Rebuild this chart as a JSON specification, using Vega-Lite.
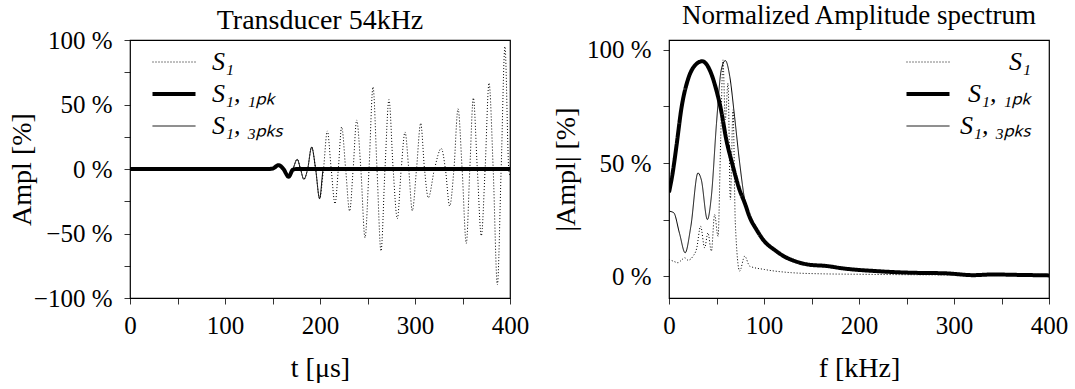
{
  "$schema": "https://vega.github.io/schema/vega-lite/v6.json",
  "background": "white",
  "padding": {"left": 7, "top": 1, "right": 5, "bottom": 3},
  "spacing": 159,
  "bounds": "flush",
  "config": {
    "font": "Liberation Serif",
    "style": {"guide-label": {"font": "Liberation Serif", "fill": "black"}, "guide-title": {"font": "Liberation Serif", "fill": "black"}, "group-title": {"font": "Liberation Serif"}},
    "view": {"stroke": "black", "strokeWidth": 1.2},
    "axis": {"domain": false, "grid": false, "ticks": true, "tickColor": "black", "tickSize": 6, "tickWidth": 0.8,
      "labelFont": "Liberation Serif", "labelFontSize": 25, "labelColor": "black", "labelFlush": false, "labelOverlap": false, "labelBound": false,
      "titleFont": "Liberation Serif", "titleFontSize": 28, "titleFontWeight": "normal", "titleColor": "black"},
    "legend": {"labelFont": "Liberation Serif"},
    "title": {"font": "Liberation Serif", "fontSize": 28, "fontWeight": "normal", "color": "black", "baseline": "alphabetic", "anchor": "middle", "frame": "group"}
  },
  "datasets": {
    "time": [
      {"s": "S1", "t": 0, "v": 0}, {"s": "S1", "t": 145, "v": 0}, {"s": "S1", "t": 150, "v": 0.3}, {"s": "S1", "t": 156.5, "v": 3},
      {"s": "S1", "t": 161.5, "v": 0}, {"s": "S1", "t": 167, "v": -6}, {"s": "S1", "t": 171.5, "v": 0}, {"s": "S1", "t": 176, "v": 7.5},
      {"s": "S1", "t": 179.5, "v": 0}, {"s": "S1", "t": 183, "v": -8}, {"s": "S1", "t": 187, "v": 0}, {"s": "S1", "t": 191.2, "v": 17},
      {"s": "S1", "t": 195.4, "v": 0}, {"s": "S1", "t": 199.6, "v": -23}, {"s": "S1", "t": 203.7, "v": 0}, {"s": "S1", "t": 207.7, "v": 29.5},
      {"s": "S1", "t": 211.8, "v": 0}, {"s": "S1", "t": 215.8, "v": -27}, {"s": "S1", "t": 219.3, "v": 0}, {"s": "S1", "t": 222.8, "v": 32.6},
      {"s": "S1", "t": 227, "v": 0}, {"s": "S1", "t": 231.2, "v": -32.6}, {"s": "S1", "t": 234.9, "v": 0}, {"s": "S1", "t": 238.6, "v": 37.9},
      {"s": "S1", "t": 243, "v": 0}, {"s": "S1", "t": 247.4, "v": -53.3}, {"s": "S1", "t": 251.6, "v": 0}, {"s": "S1", "t": 255.8, "v": 63.6},
      {"s": "S1", "t": 260, "v": 0}, {"s": "S1", "t": 264.2, "v": -63.6}, {"s": "S1", "t": 268.4, "v": 0}, {"s": "S1", "t": 272.6, "v": 53.8},
      {"s": "S1", "t": 277, "v": 0}, {"s": "S1", "t": 281.4, "v": -38.5}, {"s": "S1", "t": 285.5, "v": 0}, {"s": "S1", "t": 289.5, "v": 28.7},
      {"s": "S1", "t": 293.4, "v": 0}, {"s": "S1", "t": 297.2, "v": -32.3}, {"s": "S1", "t": 301.6, "v": 0}, {"s": "S1", "t": 306, "v": 35.4},
      {"s": "S1", "t": 310, "v": 0}, {"s": "S1", "t": 314, "v": -22.3}, {"s": "S1", "t": 320.5, "v": 0}, {"s": "S1", "t": 327.7, "v": 15.9},
      {"s": "S1", "t": 332, "v": 0}, {"s": "S1", "t": 336.5, "v": -28.7}, {"s": "S1", "t": 341, "v": 0}, {"s": "S1", "t": 345.3, "v": 46.7},
      {"s": "S1", "t": 349.6, "v": 0}, {"s": "S1", "t": 354, "v": -57.7}, {"s": "S1", "t": 357.7, "v": 0}, {"s": "S1", "t": 361.4, "v": 55.1},
      {"s": "S1", "t": 365.6, "v": 0}, {"s": "S1", "t": 369.8, "v": -51.8}, {"s": "S1", "t": 373.8, "v": 0}, {"s": "S1", "t": 377.9, "v": 66.7},
      {"s": "S1", "t": 382.3, "v": 0}, {"s": "S1", "t": 386.7, "v": -89.7}, {"s": "S1", "t": 390.7, "v": 0}, {"s": "S1", "t": 394.7, "v": 94.9},
      {"s": "S1", "t": 398.7, "v": 0}, {"s": "S1", "t": 400, "v": -5},
      {"s": "S1,1pk", "t": 0, "v": 0}, {"s": "S1,1pk", "t": 145, "v": 0}, {"s": "S1,1pk", "t": 150, "v": 0.3}, {"s": "S1,1pk", "t": 156.5, "v": 3},
      {"s": "S1,1pk", "t": 161.5, "v": 0}, {"s": "S1,1pk", "t": 167, "v": -6}, {"s": "S1,1pk", "t": 171.5, "v": -0.5}, {"s": "S1,1pk", "t": 176, "v": 0},
      {"s": "S1,1pk", "t": 400, "v": 0},
      {"s": "S1,3pks", "t": 0, "v": 0}, {"s": "S1,3pks", "t": 145, "v": 0}, {"s": "S1,3pks", "t": 150, "v": 0.3}, {"s": "S1,3pks", "t": 156.5, "v": 3},
      {"s": "S1,3pks", "t": 161.5, "v": 0}, {"s": "S1,3pks", "t": 167, "v": -6}, {"s": "S1,3pks", "t": 171.5, "v": 0}, {"s": "S1,3pks", "t": 176, "v": 7.5},
      {"s": "S1,3pks", "t": 179.5, "v": 0}, {"s": "S1,3pks", "t": 183, "v": -8}, {"s": "S1,3pks", "t": 187, "v": 0}, {"s": "S1,3pks", "t": 191.2, "v": 17},
      {"s": "S1,3pks", "t": 195.4, "v": 0}, {"s": "S1,3pks", "t": 199.6, "v": -23}, {"s": "S1,3pks", "t": 203.7, "v": 0}, {"s": "S1,3pks", "t": 207, "v": 0},
      {"s": "S1,3pks", "t": 400, "v": 0}
    ],
    "spec": [
      {"s": "S1", "f": 0, "v": 7.4}, {"s": "S1", "f": 5, "v": 6.5}, {"s": "S1", "f": 9.5, "v": 5.9}, {"s": "S1", "f": 13, "v": 7},
      {"s": "S1", "f": 16.5, "v": 8.1}, {"s": "S1", "f": 20, "v": 7}, {"s": "S1", "f": 25.3, "v": 8.8}, {"s": "S1", "f": 29, "v": 12},
      {"s": "S1", "f": 33.3, "v": 22}, {"s": "S1", "f": 37.5, "v": 12.5}, {"s": "S1", "f": 41, "v": 19.1}, {"s": "S1", "f": 44.6, "v": 11},
      {"s": "S1", "f": 48, "v": 27.2}, {"s": "S1", "f": 51.6, "v": 17.6}, {"s": "S1", "f": 54.4, "v": 60.3}, {"s": "S1", "f": 56.8, "v": 95.6},
      {"s": "S1", "f": 59.3, "v": 69.1}, {"s": "S1", "f": 62.1, "v": 85.3}, {"s": "S1", "f": 64.6, "v": 33.8}, {"s": "S1", "f": 67.4, "v": 73.5},
      {"s": "S1", "f": 69.8, "v": 23.5}, {"s": "S1", "f": 74.4, "v": 2.2}, {"s": "S1", "f": 79.7, "v": 8.8}, {"s": "S1", "f": 84.9, "v": 4.4},
      {"s": "S1", "f": 100.7, "v": 2.9}, {"s": "S1", "f": 128.8, "v": 1.5}, {"s": "S1", "f": 160, "v": 1}, {"s": "S1", "f": 200, "v": 0.8},
      {"s": "S1", "f": 250, "v": 0.6}, {"s": "S1", "f": 300, "v": 0.5}, {"s": "S1", "f": 350, "v": 0.4}, {"s": "S1", "f": 400, "v": 0.3},
      {"s": "S1,1pk", "f": 0, "v": 37}, {"s": "S1,1pk", "f": 4, "v": 46}, {"s": "S1,1pk", "f": 8, "v": 58}, {"s": "S1,1pk", "f": 13, "v": 74},
      {"s": "S1,1pk", "f": 20, "v": 87}, {"s": "S1,1pk", "f": 27, "v": 93}, {"s": "S1,1pk", "f": 35, "v": 95}, {"s": "S1,1pk", "f": 43, "v": 91},
      {"s": "S1,1pk", "f": 50, "v": 82}, {"s": "S1,1pk", "f": 55, "v": 73}, {"s": "S1,1pk", "f": 60, "v": 61}, {"s": "S1,1pk", "f": 67, "v": 49},
      {"s": "S1,1pk", "f": 74, "v": 38.5}, {"s": "S1,1pk", "f": 80, "v": 32}, {"s": "S1,1pk", "f": 85, "v": 26}, {"s": "S1,1pk", "f": 92, "v": 20.6},
      {"s": "S1,1pk", "f": 100, "v": 15.6}, {"s": "S1,1pk", "f": 112, "v": 11.3}, {"s": "S1,1pk", "f": 122, "v": 8.5}, {"s": "S1,1pk", "f": 130, "v": 7},
      {"s": "S1,1pk", "f": 148, "v": 5}, {"s": "S1,1pk", "f": 165, "v": 4.5}, {"s": "S1,1pk", "f": 183, "v": 3.4}, {"s": "S1,1pk", "f": 218, "v": 2.2},
      {"s": "S1,1pk", "f": 253, "v": 1.5}, {"s": "S1,1pk", "f": 292, "v": 1.2}, {"s": "S1,1pk", "f": 320, "v": 0.4}, {"s": "S1,1pk", "f": 341, "v": 0.7},
      {"s": "S1,1pk", "f": 370, "v": 0.5}, {"s": "S1,1pk", "f": 400, "v": 0.3},
      {"s": "S1,3pks", "f": 0, "v": 28.7}, {"s": "S1,3pks", "f": 5, "v": 28}, {"s": "S1,3pks", "f": 11, "v": 19}, {"s": "S1,3pks", "f": 17, "v": 10.3},
      {"s": "S1,3pks", "f": 23, "v": 22}, {"s": "S1,3pks", "f": 30.5, "v": 45.6}, {"s": "S1,3pks", "f": 34, "v": 42.6}, {"s": "S1,3pks", "f": 40.4, "v": 25},
      {"s": "S1,3pks", "f": 44.6, "v": 35.3}, {"s": "S1,3pks", "f": 50, "v": 67.6}, {"s": "S1,3pks", "f": 55, "v": 91.2}, {"s": "S1,3pks", "f": 59.3, "v": 95.3},
      {"s": "S1,3pks", "f": 64, "v": 88.2}, {"s": "S1,3pks", "f": 69, "v": 70.6}, {"s": "S1,3pks", "f": 74.4, "v": 50}, {"s": "S1,3pks", "f": 80, "v": 33},
      {"s": "S1,3pks", "f": 85, "v": 26}, {"s": "S1,3pks", "f": 92, "v": 20.6}, {"s": "S1,3pks", "f": 100, "v": 15.6}, {"s": "S1,3pks", "f": 112, "v": 11.3},
      {"s": "S1,3pks", "f": 122, "v": 8.5}, {"s": "S1,3pks", "f": 130, "v": 7}, {"s": "S1,3pks", "f": 148, "v": 5}, {"s": "S1,3pks", "f": 165, "v": 4.5},
      {"s": "S1,3pks", "f": 183, "v": 3.4}, {"s": "S1,3pks", "f": 218, "v": 2.2}, {"s": "S1,3pks", "f": 253, "v": 1.5}, {"s": "S1,3pks", "f": 292, "v": 1.2},
      {"s": "S1,3pks", "f": 320, "v": 0.4}, {"s": "S1,3pks", "f": 341, "v": 0.7}, {"s": "S1,3pks", "f": 370, "v": 0.5}, {"s": "S1,3pks", "f": 400, "v": 0.3}
    ]
  },
  "hconcat": [
    {
      "width": 380, "height": 258,
      "title": {"text": "Transducer 54kHz", "offset": -7, "frame": "group"},
      "data": {"name": "time"},
      "mark": {"type": "line", "interpolate": "monotone", "clip": true},
      "encoding": {
        "x": {"field": "t", "type": "quantitative", "scale": {"domain": [0, 400], "nice": false},
          "axis": {"title": "t [μs]", "labelFont": "Liberation Serif", "titleFont": "Liberation Serif", "values": [0, 50, 100, 150, 200, 250, 300, 350, 400], "labelExpr": "datum.value % 100 === 0 ? datum.label : ''", "labelPadding": 9, "titlePadding": 16}},
        "y": {"field": "v", "type": "quantitative", "scale": {"domain": [-100, 100], "nice": false},
          "axis": {"title": "Ampl [%]", "labelFont": "Liberation Serif", "titleFont": "Liberation Serif", "values": [-100, -75, -50, -25, 0, 25, 50, 75, 100], "labelExpr": "datum.value % 50 === 0 ? format(datum.value, 'd') + ' %' : ''", "labelPadding": 12, "titleX": -108, "titleY": 129, "titleBaseline": "middle"}},
        "color": {"field": "s", "type": "nominal", "scale": {"domain": ["S1", "S1,1pk", "S1,3pks"], "range": ["black", "black", "black"]},
          "legend": {"title": null, "orient": "none", "legendX": 31, "legendY": 9, "padding": 0, "symbolType": "stroke", "symbolSize": 1849, "symbolStrokeWidth": 1, "rowPadding": 6, "labelOffset": 25, "labelFont": "Liberation Serif", "labelFontSize": 26, "labelFontStyle": "italic", "labelColor": "black",
            "labelExpr": "datum.value === 'S1' ? 'S₁' : datum.value === 'S1,1pk' ? 'S₁, ₁ₚₖ' : 'S₁, ₃ₚₖₛ'",
            "encode": {"symbols": {"update": {"strokeWidth": {"signal": "datum.value === 'S1,1pk' ? 4 : 1"}}}}}},
        "strokeDash": {"field": "s", "type": "nominal", "scale": {"domain": ["S1", "S1,1pk", "S1,3pks"], "range": [[1, 2], [1, 0], [1, 0]]},
          "legend": {"title": null, "orient": "none", "legendX": 31, "legendY": 9, "padding": 0, "symbolType": "stroke", "symbolSize": 1849, "symbolStrokeWidth": 1, "rowPadding": 6, "labelOffset": 25, "labelFont": "Liberation Serif", "labelFontSize": 26, "labelFontStyle": "italic", "labelColor": "black",
            "labelExpr": "datum.value === 'S1' ? 'S₁' : datum.value === 'S1,1pk' ? 'S₁, ₁ₚₖ' : 'S₁, ₃ₚₖₛ'",
            "encode": {"symbols": {"update": {"strokeWidth": {"signal": "datum.value === 'S1,1pk' ? 4 : 1"}}}}}},
        "strokeWidth": {"condition": {"test": "datum.s === 'S1,1pk'", "value": 4}, "value": 1}
      }
    },
    {
      "width": 380, "height": 258,
      "title": {"text": "Normalized Amplitude spectrum", "offset": 8, "fontSize": 27, "frame": "group"},
      "data": {"name": "spec"},
      "mark": {"type": "line", "interpolate": "monotone", "clip": true},
      "encoding": {
        "x": {"field": "f", "type": "quantitative", "scale": {"domain": [0, 400], "nice": false},
          "axis": {"title": "f [kHz]", "labelFont": "Liberation Serif", "titleFont": "Liberation Serif", "values": [0, 50, 100, 150, 200, 250, 300, 350, 400], "labelExpr": "datum.value % 100 === 0 ? datum.label : ''", "labelPadding": 9, "titlePadding": 16}},
        "y": {"field": "v", "type": "quantitative", "scale": {"domain": [-9.7, 104.4], "nice": false, "zero": false},
          "axis": {"title": "|Ampl| [%]", "labelFont": "Liberation Serif", "titleFont": "Liberation Serif", "values": [0, 25, 50, 75, 100], "labelExpr": "datum.value % 50 === 0 ? format(datum.value, 'd') + ' %' : ''", "labelPadding": 12, "titleX": -103, "titleY": 129, "titleBaseline": "middle"}},
        "color": {"field": "s", "type": "nominal", "scale": {"domain": ["S1", "S1,1pk", "S1,3pks"], "range": ["black", "black", "black"]},
          "legend": {"title": null, "orient": "none", "legendX": 246, "legendY": 9, "padding": 0, "symbolType": "stroke", "symbolSize": 1849, "symbolStrokeWidth": 1, "rowPadding": 6, "labelOffset": 90, "labelAlign": "right", "labelFont": "Liberation Serif", "labelFontSize": 26, "labelFontStyle": "italic", "labelColor": "black",
            "labelExpr": "datum.value === 'S1' ? 'S₁' : datum.value === 'S1,1pk' ? 'S₁, ₁ₚₖ' : 'S₁, ₃ₚₖₛ'",
            "encode": {"symbols": {"update": {"strokeWidth": {"signal": "datum.value === 'S1,1pk' ? 4 : 1"}}}}}},
        "strokeDash": {"field": "s", "type": "nominal", "scale": {"domain": ["S1", "S1,1pk", "S1,3pks"], "range": [[1, 2], [1, 0], [1, 0]]},
          "legend": {"title": null, "orient": "none", "legendX": 246, "legendY": 9, "padding": 0, "symbolType": "stroke", "symbolSize": 1849, "symbolStrokeWidth": 1, "rowPadding": 6, "labelOffset": 90, "labelAlign": "right", "labelFont": "Liberation Serif", "labelFontSize": 26, "labelFontStyle": "italic", "labelColor": "black",
            "labelExpr": "datum.value === 'S1' ? 'S₁' : datum.value === 'S1,1pk' ? 'S₁, ₁ₚₖ' : 'S₁, ₃ₚₖₛ'",
            "encode": {"symbols": {"update": {"strokeWidth": {"signal": "datum.value === 'S1,1pk' ? 4 : 1"}}}}}},
        "strokeWidth": {"condition": {"test": "datum.s === 'S1,1pk'", "value": 4}, "value": 1}
      }
    }
  ],
  "resolve": {"scale": {"color": "independent", "strokeDash": "independent"}, "legend": {"color": "independent", "strokeDash": "independent"}}
}
